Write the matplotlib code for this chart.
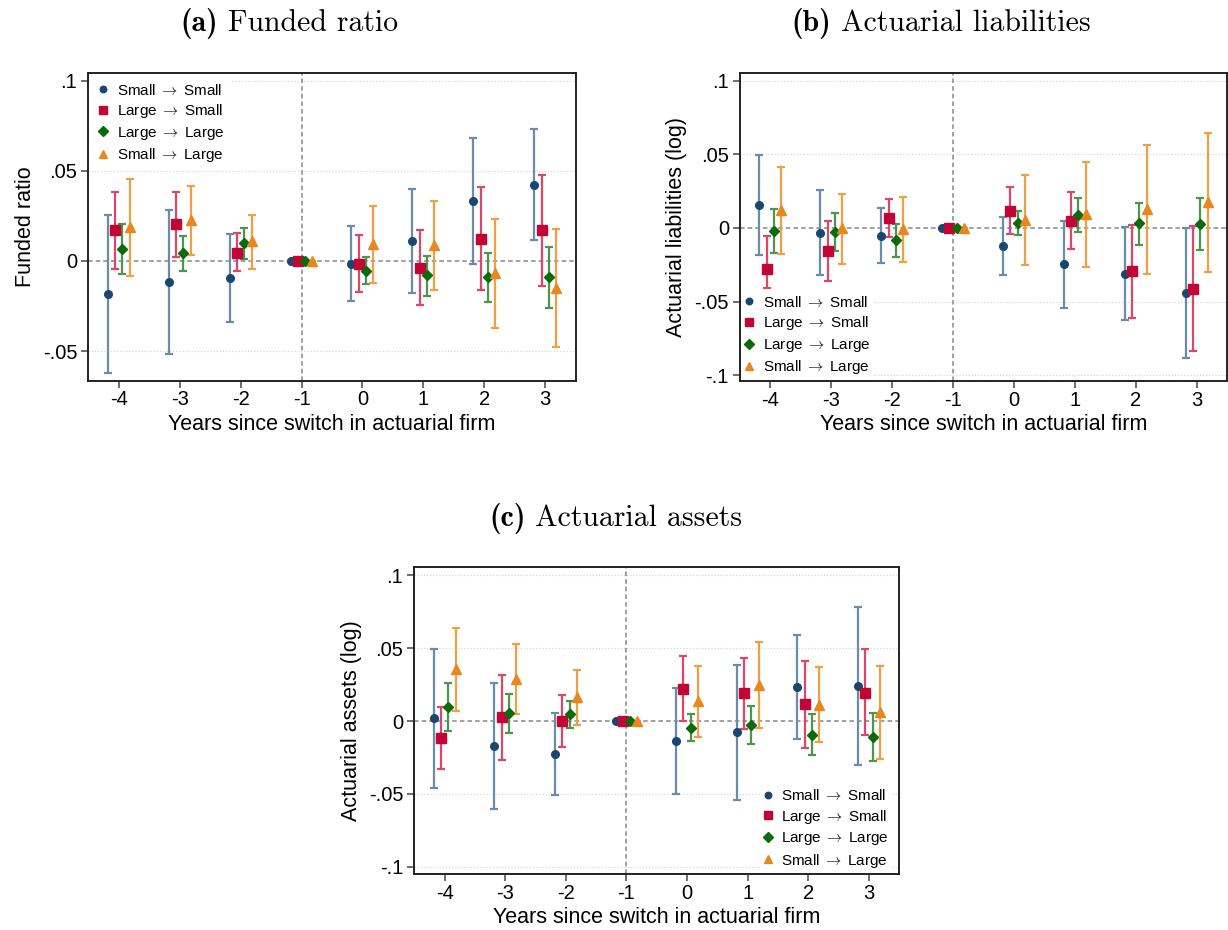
"""
Event-study estimates around a switch in actuarial firm, by switch type.
Three panels: funded ratio, actuarial liabilities (log), actuarial assets (log).
"""
import numpy as np
import matplotlib
matplotlib.use('Agg')
import matplotlib.pyplot as plt

plt.rcParams['font.family'] = ['Liberation Sans', 'DejaVu Sans']
plt.rcParams['mathtext.fontset'] = 'cm'
plt.rcParams['axes.unicode_minus'] = False

years = [-4, -3, -2, -1, 0, 1, 2, 3]
year_labels = ['-4', '-3', '-2', '-1', '0', '1', '2', '3']
series_names = [r'Small$\;\rightarrow\;$Small', r'Large$\;\rightarrow\;$Small',
                r'Large$\;\rightarrow\;$Large', r'Small$\;\rightarrow\;$Large']

# (a) Funded ratio: point estimate, lower and upper bound of the CI
fr_ss = [-0.0181, -0.0117, -0.0096, 0.0, -0.0019, 0.0109, 0.0331, 0.0422]
fr_ss_lo = [-0.0622, -0.0519, -0.0341, 0.0, -0.0222, -0.0178, -0.0020, 0.0115]
fr_ss_hi = [0.0257, 0.0285, 0.0148, 0.0, 0.0191, 0.0400, 0.0683, 0.0731]
fr_ls = [0.0169, 0.0202, 0.0046, 0.0, -0.0015, -0.0037, 0.0122, 0.0169]
fr_ls_lo = [-0.0044, 0.0019, -0.0056, 0.0, -0.0172, -0.0244, -0.0161, -0.0137]
fr_ls_hi = [0.0383, 0.0383, 0.0154, 0.0, 0.0144, 0.0172, 0.0411, 0.0478]
fr_ll = [0.0067, 0.0041, 0.0098, 0.0, -0.0054, -0.0081, -0.0091, -0.0091]
fr_ll_lo = [-0.0070, -0.0056, 0.0013, 0.0, -0.0130, -0.0193, -0.0228, -0.0261]
fr_ll_hi = [0.0206, 0.0137, 0.0183, 0.0, 0.0022, 0.0028, 0.0046, 0.0078]
fr_sl = [0.0189, 0.0226, 0.0109, 0.0, 0.0094, 0.0087, -0.0067, -0.0148]
fr_sl_lo = [-0.0085, 0.0030, -0.0044, 0.0, -0.0120, -0.0161, -0.0372, -0.0478]
fr_sl_hi = [0.0457, 0.0417, 0.0257, 0.0, 0.0302, 0.0331, 0.0235, 0.0178]

# (b) Actuarial liabilities (log)
li_ss = [0.0156, -0.0032, -0.0053, 0.0, -0.0126, -0.0248, -0.0310, -0.0443]
li_ss_lo = [-0.0186, -0.0317, -0.0239, 0.0, -0.0323, -0.0546, -0.0624, -0.0885]
li_ss_hi = [0.0498, 0.0255, 0.0135, 0.0, 0.0073, 0.0048, 0.0005, 0.0]
li_ls = [-0.0282, -0.0158, 0.0069, 0.0, 0.0115, 0.0046, -0.0291, -0.0415]
li_ls_lo = [-0.0408, -0.0362, -0.0062, 0.0, -0.0039, -0.0144, -0.0610, -0.0833]
li_ls_hi = [-0.0057, 0.0044, 0.0197, 0.0, 0.0275, 0.0245, 0.0023, 0.0011]
li_ll = [-0.0023, -0.0025, -0.0085, 0.0, 0.0034, 0.0087, 0.0030, 0.0025]
li_ll_lo = [-0.0172, -0.0158, -0.0197, 0.0, -0.0046, -0.0028, -0.0115, -0.0151]
li_ll_hi = [0.0128, 0.0101, 0.0025, 0.0, 0.0112, 0.0202, 0.0172, 0.0202]
li_sl = [0.0124, 0.0, -0.0009, 0.0, 0.0057, 0.0094, 0.0128, 0.0174]
li_sl_lo = [-0.0174, -0.0243, -0.0234, 0.0, -0.0252, -0.0264, -0.0310, -0.0300]
li_sl_hi = [0.0417, 0.0232, 0.0209, 0.0, 0.0358, 0.0447, 0.0562, 0.0642]

# (c) Actuarial assets (log)
as_ss = [0.0018, -0.0174, -0.0229, 0.0, -0.0138, -0.0078, 0.0232, 0.0241]
as_ss_lo = [-0.0459, -0.0603, -0.0511, 0.0, -0.0500, -0.0539, -0.0126, -0.0303]
as_ss_hi = [0.0495, 0.0259, 0.0053, 0.0, 0.0227, 0.0383, 0.0592, 0.0782]
as_ls = [-0.0119, 0.0025, 0.0, 0.0, 0.0218, 0.0190, 0.0117, 0.0193]
as_ls_lo = [-0.0326, -0.0266, -0.0177, 0.0, 0.0, -0.0057, -0.0183, -0.0099]
as_ls_hi = [0.0094, 0.0317, 0.0177, 0.0, 0.0447, 0.0433, 0.0415, 0.0491]
as_ll = [0.0099, 0.0053, 0.0046, 0.0, -0.0046, -0.0025, -0.0094, -0.0112]
as_ll_lo = [-0.0067, -0.0085, -0.0046, 0.0, -0.0138, -0.0156, -0.0234, -0.0275]
as_ll_hi = [0.0259, 0.0188, 0.0138, 0.0, 0.0046, 0.0106, 0.0046, 0.0053]
as_sl = [0.0360, 0.0291, 0.0165, 0.0, 0.0138, 0.0250, 0.0112, 0.0064]
as_sl_lo = [0.0071, 0.0048, -0.0030, 0.0, -0.0112, -0.0048, -0.0147, -0.0259]
as_sl_hi = [0.0640, 0.0528, 0.0351, 0.0, 0.0381, 0.0544, 0.0369, 0.0378]

COLORS = ['#1a476f', '#c10534', '#0a6b0a', '#e8871e']
BAR_COLORS = ['#6a8cab', '#d9476b', '#4d944d', '#ef9f45']
MARKERS = ['o', 's', 'D', '^']
MSIZES = [5.5, 7, 5.5, 7]
OFFSETS = [-0.18, -0.06, 0.06, 0.18]


def draw_panel(ax, series, yticks, yticklabels, ylim, ylabel, legend_loc, legend_anchor, legend_pads):
    ax.axhline(0, color='#888888', lw=1.1, ls=(0, (3, 2)), zorder=1)
    ax.axvline(-1, color='#888888', lw=1.1, ls=(0, (3, 2)), zorder=1)
    for t in yticks:
        if t != 0:
            ax.axhline(t, color='#d8d8d8', lw=0.9, ls=(0, (1, 1.5)), zorder=0)

    handles = []
    x = np.array(years, dtype=float)
    for i, (pt, lo, hi) in enumerate(series):
        pt, lo, hi = np.array(pt), np.array(lo), np.array(hi)
        xs = x + OFFSETS[i]
        ax.errorbar(xs, pt, yerr=[pt - lo, hi - pt], fmt='none', ecolor=BAR_COLORS[i],
                    elinewidth=1.6, capsize=3, capthick=1.6, zorder=2)
        h, = ax.plot(xs, pt, ls='none', marker=MARKERS[i], ms=MSIZES[i], color=COLORS[i],
                     mec=COLORS[i], zorder=3, label=series_names[i])
        handles.append(h)

    ax.set_xlim(-4.5, 3.5)
    ax.set_ylim(*ylim)
    ax.set_xticks(years)
    ax.set_xticklabels(year_labels)
    ax.set_yticks(yticks)
    ax.set_yticklabels(yticklabels)
    ax.tick_params(axis='both', labelsize=14.5, length=5, width=1.2, color='#555555', direction='out')
    ax.tick_params(axis='y', pad=3)
    ax.tick_params(axis='x', pad=2)
    for side in ax.spines.values():
        side.set_linewidth(1.4)
        side.set_color('#222222')
        side.set_zorder(6)
    ax.set_xlabel('Years since switch in actuarial firm', fontsize=15.5, labelpad=3)
    ax.set_ylabel(ylabel, fontsize=15.5, labelpad=5)
    border_pad, axes_pad = legend_pads
    leg = ax.legend(handles=handles, loc=legend_loc, bbox_to_anchor=legend_anchor,
                    frameon=True, fontsize=11, handlelength=0.6, handletextpad=0.6,
                    labelspacing=0.3, borderpad=border_pad, borderaxespad=axes_pad,
                    markerscale=0.85)
    leg.get_frame().set_edgecolor('none')
    leg.get_frame().set_facecolor('white')
    leg.get_frame().set_alpha(1)
    leg.get_frame().set_boxstyle('square', pad=0)
    leg.set_zorder(5)


def panel_title(fig, cx, cy, tag, words, size=21.5):
    """Bold '(x)' tag followed by a roman title, centred on (cx, cy)."""
    renderer = fig.canvas.get_renderer()
    t1 = fig.text(0, cy, tag, family='cmb10', fontsize=size, va='center')
    t2 = fig.text(0, cy, words, family='cmr10', fontsize=size, va='center')
    w1 = t1.get_window_extent(renderer).width
    w2 = t2.get_window_extent(renderer).width
    gap = size * 0.45
    W = fig.get_figwidth() * fig.dpi
    left = cx * W - (w1 + gap + w2) / 2
    t1.set_x(left / W)
    t2.set_x((left + w1 + gap) / W)


fig = plt.figure(figsize=(12.28, 9.30), dpi=100)
ax_a = fig.add_axes([0.0719, 0.5906, 0.3969, 0.3312])
ax_b = fig.add_axes([0.6026, 0.5903, 0.3966, 0.3315])
ax_c = fig.add_axes([0.3374, 0.0599, 0.3949, 0.3307])

draw_panel(ax_a,
           [(fr_ss, fr_ss_lo, fr_ss_hi), (fr_ls, fr_ls_lo, fr_ls_hi),
            (fr_ll, fr_ll_lo, fr_ll_hi), (fr_sl, fr_sl_lo, fr_sl_hi)],
           [0.1, 0.05, 0, -0.05], ['.1', '.05', '0', '-.05'], (-0.0665, 0.1044),
           'Funded ratio', 'upper left', None, (0.4, 0.25))
draw_panel(ax_b,
           [(li_ss, li_ss_lo, li_ss_hi), (li_ls, li_ls_lo, li_ls_hi),
            (li_ll, li_ll_lo, li_ll_hi), (li_sl, li_sl_lo, li_sl_hi)],
           [0.1, 0.05, 0, -0.05, -0.1], ['.1', '.05', '0', '-.05', '-.1'], (-0.104, 0.1054),
           'Actuarial liabilities (log)', 'lower left', None, (0.15, 0.15))
draw_panel(ax_c,
           [(as_ss, as_ss_lo, as_ss_hi), (as_ls, as_ls_lo, as_ls_hi),
            (as_ll, as_ll_lo, as_ll_hi), (as_sl, as_sl_lo, as_sl_hi)],
           [0.1, 0.05, 0, -0.05, -0.1], ['.1', '.05', '0', '-.05', '-.1'], (-0.1052, 0.1059),
           'Actuarial assets (log)', 'lower right', (0.988, 0.0), (0.15, 0.15))

panel_title(fig, 0.2353, 0.975, '(a)', 'Funded ratio')
panel_title(fig, 0.766, 0.975, '(b)', 'Actuarial liabilities')
panel_title(fig, 0.5014, 0.443, '(c)', 'Actuarial assets')

fig.savefig('out.png', dpi=100, facecolor='white')
